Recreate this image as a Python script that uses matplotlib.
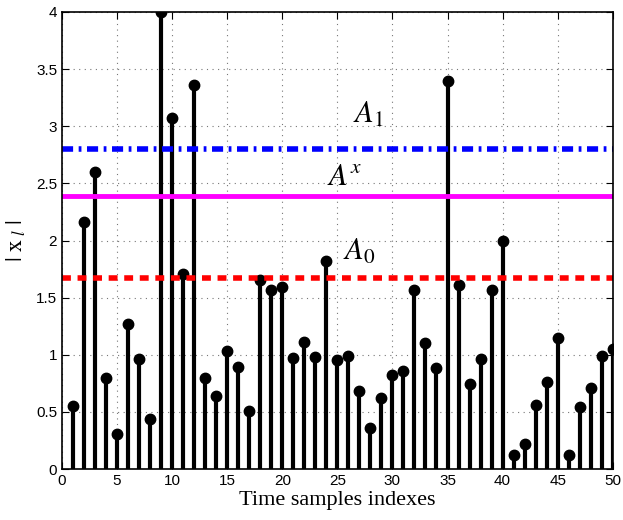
import matplotlib
matplotlib.use('Agg')
import matplotlib.pyplot as plt
import numpy as np

# sample magnitudes |x_l| for l = 1..50
idx = np.arange(1, 51)
mags = [0.55, 2.16, 2.60, 0.80, 0.31, 1.27, 0.96, 0.44, 4.00, 3.07,
        1.71, 3.36, 0.80, 0.64, 1.03, 0.89, 0.51, 1.65, 1.57, 1.59,
        0.97, 1.11, 0.98, 1.82, 0.95, 0.99, 0.68, 0.36, 0.62, 0.82,
        0.86, 1.57, 1.10, 0.88, 3.40, 1.61, 0.74, 0.96, 1.57, 2.00,
        0.12, 0.22, 0.56, 0.76, 1.15, 0.12, 0.54, 0.71, 0.99, 1.05]

# thresholds
A1 = 2.80
Ax = 2.39
A0 = 1.67

plt.rcParams['mathtext.fontset'] = 'stix'
plt.rcParams['font.family'] = ['Liberation Sans', 'DejaVu Sans']

fig = plt.figure(figsize=(6.23, 5.2), dpi=100)
ax = fig.add_axes([0.0995, 0.098, 0.884, 0.879])

ml, sl, bl = ax.stem(idx, mags, linefmt='k-', markerfmt='ko', basefmt=' ')
plt.setp(sl, linewidth=3.0)
plt.setp(ml, markersize=7.5)

ax.axhline(A1, color='#0000ff', linewidth=4, linestyle=(0, (2.0, 1.0, 0.5, 1.0)))
ax.axhline(Ax, color='#ff00ff', linewidth=3.5)
ax.axhline(A0, color='#ff0000', linewidth=4, linestyle=(0, (1.6, 1.2)))

ax.text(26.4, 3.03, r'$A_{\mathit{1}}$', fontsize=22, family='serif')
ax.text(24.1, 2.49, r'$A^{x}$', fontsize=22, family='serif')
ax.text(25.5, 1.83, r'$A_{\mathit{0}}$', fontsize=22, family='serif')

ax.set_xlim(0, 50)
ax.set_ylim(0, 4)
ax.set_xticks(np.arange(0, 51, 5))
ax.set_yticks(np.arange(0, 4.01, 0.5))
ax.set_yticklabels(['0', '0.5', '1', '1.5', '2', '2.5', '3', '3.5', '4'])
ax.grid(True, linestyle=(0, (1, 4)), color='#777777', linewidth=0.8)
ax.set_axisbelow(True)
ax.tick_params(direction='in', top=True, right=True, labelsize=11, length=5)
for s in ax.spines.values():
    s.set_linewidth(1.2)

ax.set_xlabel('Time samples indexes', fontsize=16, family='Liberation Serif', labelpad=2)
ax.set_ylabel(r'$|\ \mathrm{x}_{\ \mathit{l}}\ |$', fontsize=17, labelpad=6)

fig.savefig('out.png', dpi=100)
